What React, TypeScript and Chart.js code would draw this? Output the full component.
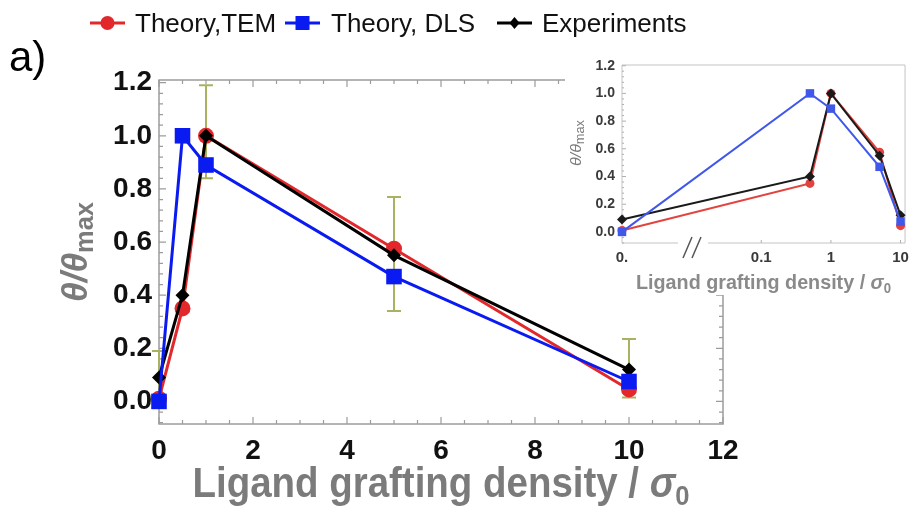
import React, { useEffect, useRef } from 'react';
import { Chart, registerables } from 'chart.js';

Chart.register(...registerables);

// ---------- data ----------
const densities = [0, 0.5, 1, 5, 10];
// inset uses a broken log axis: density 0 is placed at the left origin (0.001)
const insetDensities = [0.001, 0.5, 1, 5, 10];
const theoryTEM = [0.01, 0.35, 1.0, 0.575, 0.045];
const theoryDLS = [0.0, 1.0, 0.89, 0.47, 0.075];
const experiments = [0.09, 0.4, 1.0, 0.55, 0.12];
const expErrHigh: (number | null)[] = [0.19, null, 1.19, 0.77, 0.235];
const expErrLow: (number | null)[] = [-0.01, null, 0.84, 0.34, 0.015];
const mainXTicks = [0, 2, 4, 6, 8, 10, 12];
const yTicks = [0, 0.2, 0.4, 0.6, 0.8, 1.0, 1.2];
const insetXTicks = [0.001, 0.1, 1, 10];
const insetXTickLabels = ['0.', '0.1', '1', '10'];
const seriesNames = ['Theory,TEM', 'Theory, DLS', 'Experiments'];

// ---------- styles ----------
const FONT = "'Liberation Sans', Arial, Helvetica, sans-serif";
const RED = '#e3282b';
const BLUE = '#0a1bf2';
const BLACK = '#000000';
const ERR = '#aab160';
const TITLE_GRAY = '#7b7b7b';

const pts = (xs: number[], ys: number[]) => xs.map((x, i) => ({ x, y: ys[i] }));

type Run = { text: string; font: string; dy?: number };

function drawRich(ctx: CanvasRenderingContext2D, runs: Run[], cx: number, by: number, color: string, targetWidth?: number, rotate?: boolean) {
  ctx.save();
  ctx.fillStyle = color;
  ctx.textBaseline = 'alphabetic';
  ctx.textAlign = 'left';
  const widths = runs.map((r) => {
    ctx.font = r.font;
    return ctx.measureText(r.text).width;
  });
  const W = widths.reduce((a, b) => a + b, 0);
  const s = targetWidth ? targetWidth / W : 1;
  ctx.translate(cx, by);
  if (rotate) ctx.rotate(-Math.PI / 2);
  ctx.scale(s, 1);
  let x = -W / 2;
  runs.forEach((r, i) => {
    ctx.font = r.font;
    ctx.fillText(r.text, x, r.dy || 0);
    x += widths[i];
  });
  ctx.restore();
}

function drawMarker(ctx: CanvasRenderingContext2D, style: string, x: number, y: number, r: number, color: string) {
  ctx.save();
  ctx.fillStyle = color;
  ctx.beginPath();
  if (style === 'circle') {
    ctx.arc(x, y, r, 0, Math.PI * 2);
  } else if (style === 'rect') {
    ctx.rect(x - r, y - r, 2 * r, 2 * r);
  } else {
    ctx.moveTo(x, y - r);
    ctx.lineTo(x + r * 0.85, y);
    ctx.lineTo(x, y + r);
    ctx.lineTo(x - r * 0.85, y);
    ctx.closePath();
  }
  ctx.fill();
  ctx.restore();
}

function tickLoop(min: number, max: number, step: number, every: number, cb: (v: number, major: boolean) => void) {
  const k0 = Math.ceil(min / step - 1e-9);
  const k1 = Math.floor(max / step + 1e-9);
  for (let k = k0; k <= k1; k++) cb(k * step, k % every === 0);
}

// ---------- main chart plugin ----------
const mainDecor = {
  id: 'mainDecor',
  beforeDatasetsDraw(chart: any) {
    const { ctx, chartArea: a, scales } = chart;
    const x = scales.x;
    const y = scales.y;
    ctx.save();
    ctx.strokeStyle = '#9c9c9c';
    ctx.lineWidth = 1.5;
    ctx.strokeRect(a.left, a.top, a.right - a.left, a.bottom - a.top);
    ctx.lineWidth = 1.2;
    ctx.beginPath();
    tickLoop(x.min, x.max, 0.5, 4, (v, major) => {
      const px = x.getPixelForValue(v);
      const len = major ? 7 : 4;
      ctx.moveTo(px, a.bottom);
      ctx.lineTo(px, a.bottom - len);
      ctx.moveTo(px, a.top);
      ctx.lineTo(px, a.top + len);
    });
    tickLoop(y.min, y.max, 0.04, 5, (v, major) => {
      const py = y.getPixelForValue(v);
      const len = major ? 7 : 4;
      ctx.moveTo(a.left, py);
      ctx.lineTo(a.left + len, py);
      ctx.moveTo(a.right, py);
      ctx.lineTo(a.right - len, py);
    });
    ctx.stroke();
    // error bars on experiments
    ctx.strokeStyle = ERR;
    ctx.lineWidth = 2;
    ctx.beginPath();
    densities.forEach((d, i) => {
      const hi = expErrHigh[i];
      const lo = expErrLow[i];
      if (hi == null || lo == null) return;
      const px = x.getPixelForValue(d);
      const ph = y.getPixelForValue(hi);
      const pl = y.getPixelForValue(lo);
      ctx.moveTo(px, ph);
      ctx.lineTo(px, pl);
      ctx.moveTo(px - 7, ph);
      ctx.lineTo(px + 7, ph);
      ctx.moveTo(px - 7, pl);
      ctx.lineTo(px + 7, pl);
    });
    ctx.stroke();
    ctx.restore();
  },
  afterDraw(chart: any) {
    const { ctx, chartArea: a } = chart;
    ctx.save();
    ctx.fillStyle = '#000';
    ctx.font = `42px ${FONT}`;
    ctx.textBaseline = 'alphabetic';
    ctx.textAlign = 'left';
    ctx.fillText('a)', 9, 71);
    const items = [
      { name: seriesNames[0], color: RED, style: 'circle', r: 7, x0: 90, x1: 125, tx: 135 },
      { name: seriesNames[1], color: BLUE, style: 'rect', r: 7, x0: 285, x1: 320, tx: 331 },
      { name: seriesNames[2], color: BLACK, style: 'diamond', r: 6, x0: 497, x1: 532, tx: 542 },
    ];
    const ly = 23;
    items.forEach((it) => {
      ctx.strokeStyle = it.color;
      ctx.lineWidth = 3;
      ctx.beginPath();
      ctx.moveTo(it.x0, ly);
      ctx.lineTo(it.x1, ly);
      ctx.stroke();
      drawMarker(ctx, it.style, (it.x0 + it.x1) / 2, ly, it.r, it.color);
      ctx.fillStyle = '#111';
      ctx.font = `26px ${FONT}`;
      ctx.fillText(it.name, it.tx, 32);
    });
    ctx.restore();
    const cx = (a.left + a.right) / 2;
    drawRich(
      ctx,
      [
        { text: 'Ligand grafting density / ', font: `bold 42px ${FONT}` },
        { text: 'σ', font: `italic bold 42px ${FONT}` },
        { text: '0', font: `bold 28px ${FONT}`, dy: 8 },
      ],
      cx,
      497,
      TITLE_GRAY,
      497
    );
    drawRich(
      ctx,
      [
        { text: 'θ/θ', font: `italic bold 36px ${FONT}` },
        { text: 'max', font: `bold 26px ${FONT}`, dy: 6 },
      ],
      87,
      (a.top + a.bottom) / 2,
      TITLE_GRAY,
      100,
      true
    );
  },
};

// ---------- inset plugin ----------
const insetDecor = {
  id: 'insetDecor',
  beforeDraw(chart: any) {
    const { ctx, width, height } = chart;
    ctx.save();
    ctx.fillStyle = '#ffffff';
    ctx.fillRect(0, 0, width, height);
    ctx.restore();
  },
  beforeDatasetsDraw(chart: any) {
    const { ctx, chartArea: a, scales } = chart;
    const x = scales.x;
    const y = scales.y;
    ctx.save();
    ctx.strokeStyle = '#c4c4c4';
    ctx.lineWidth = 1;
    const gap0 = 113;
    const gap1 = 143;
    ctx.beginPath();
    ctx.moveTo(a.left, a.top);
    ctx.lineTo(a.right, a.top);
    ctx.lineTo(a.right, a.bottom);
    ctx.lineTo(gap1, a.bottom);
    ctx.moveTo(gap0, a.bottom);
    ctx.lineTo(a.left, a.bottom);
    ctx.lineTo(a.left, a.top);
    ctx.stroke();
    ctx.strokeStyle = '#b0b0b0';
    ctx.beginPath();
    tickLoop(y.min, y.max, 0.04, 5, (v, major) => {
      const py = y.getPixelForValue(v);
      const len = major ? 4 : 2;
      ctx.moveTo(a.left, py);
      ctx.lineTo(a.left + len, py);
    });
    insetXTicks.forEach((v, i) => {
      if (i === 0) return;
      const px = x.getPixelForValue(v);
      ctx.moveTo(px, a.bottom);
      ctx.lineTo(px, a.bottom - 3);
    });
    ctx.stroke();
    // axis break marks
    ctx.strokeStyle = '#555';
    ctx.lineWidth = 1.5;
    ctx.beginPath();
    ctx.moveTo(118, a.bottom + 15);
    ctx.lineTo(127, a.bottom - 6);
    ctx.moveTo(127, a.bottom + 15);
    ctx.lineTo(136, a.bottom - 6);
    ctx.stroke();
    ctx.restore();
  },
  afterDraw(chart: any) {
    const { ctx, chartArea: a } = chart;
    drawRich(
      ctx,
      [
        { text: 'Ligand grafting density / ', font: `bold 21px ${FONT}` },
        { text: 'σ', font: `italic bold 21px ${FONT}` },
        { text: '0', font: `bold 14px ${FONT}`, dy: 4 },
      ],
      (a.left + a.right) / 2,
      244,
      '#8a8a8a',
      255
    );
    drawRich(
      ctx,
      [
        { text: 'θ/θ', font: `italic 15px ${FONT}` },
        { text: 'max', font: `12px ${FONT}`, dy: 3 },
      ],
      16,
      98,
      '#7a7a7a',
      46,
      true
    );
  },
};

function MainChart() {
  const ref = useRef<HTMLCanvasElement>(null);
  useEffect(() => {
    const mk = (label: string, ys: number[], color: string, style: string, r: number, order: number) => ({
      label,
      data: pts(densities, ys),
      borderColor: color,
      backgroundColor: color,
      pointBackgroundColor: color,
      pointBorderColor: color,
      pointBorderWidth: 0,
      pointStyle: style,
      pointRadius: r,
      borderWidth: 3,
      order,
      clip: false as any,
      tension: 0,
    });
    const chart = new Chart(ref.current as HTMLCanvasElement, {
      type: 'line',
      data: {
        datasets: [
          mk(seriesNames[0], theoryTEM, RED, 'circle', 8, 3),
          mk(seriesNames[1], theoryDLS, BLUE, 'rect', 11, 1),
          mk(seriesNames[2], experiments, BLACK, 'rectRot', 7, 2),
        ] as any,
      },
      options: {
        animation: false,
        responsive: false,
        devicePixelRatio: 1,
        layout: { padding: { top: 80, right: 192, left: 0, bottom: 0 } },
        plugins: { legend: { display: false }, tooltip: { enabled: false } },
        scales: {
          x: {
            type: 'linear',
            min: 0,
            max: 12,
            afterBuildTicks: (s: any) => {
              s.ticks = mainXTicks.map((v) => ({ value: v }));
            },
            afterFit: (s: any) => {
              s.height = 105;
            },
            grid: { display: false, drawTicks: false },
            border: { display: false },
            ticks: {
              font: { family: FONT, size: 28, weight: 'bold' },
              color: '#111',
              padding: 10,
              maxRotation: 0,
              autoSkip: false,
              callback: (v: any) => String(v),
            },
          },
          y: {
            type: 'linear',
            min: -0.085,
            max: 1.21,
            afterBuildTicks: (s: any) => {
              s.ticks = yTicks.map((v) => ({ value: v }));
            },
            afterFit: (s: any) => {
              s.width = 159;
            },
            grid: { display: false, drawTicks: false },
            border: { display: false },
            ticks: {
              font: { family: FONT, size: 28, weight: 'bold' },
              color: '#111',
              padding: 7,
              autoSkip: false,
              callback: (v: any) => Number(v).toFixed(1),
            },
          },
        } as any,
      },
      plugins: [mainDecor],
    });
    return () => chart.destroy();
  }, []);
  return <canvas ref={ref} width={915} height={529} style={{ position: 'absolute', left: 0, top: 0 }} />;
}

function InsetChart() {
  const ref = useRef<HTMLCanvasElement>(null);
  useEffect(() => {
    const mk = (label: string, ys: number[], color: string, style: string, r: number, order: number) => ({
      label,
      data: pts(insetDensities, ys),
      borderColor: color,
      backgroundColor: color,
      pointBackgroundColor: color,
      pointBorderColor: color,
      pointBorderWidth: 0,
      pointStyle: style,
      pointRadius: r,
      borderWidth: 2,
      order,
      clip: false as any,
      tension: 0,
    });
    const chart = new Chart(ref.current as HTMLCanvasElement, {
      type: 'line',
      data: {
        datasets: [
          mk(seriesNames[0], theoryTEM, '#e2433f', 'circle', 4.5, 3),
          mk(seriesNames[1], theoryDLS, '#4058ea', 'rect', 6, 1),
          mk(seriesNames[2], experiments, '#1a1a1a', 'rectRot', 5, 2),
        ] as any,
      },
      options: {
        animation: false,
        responsive: false,
        devicePixelRatio: 1,
        layout: { padding: { top: 20, right: 7, left: 0, bottom: 0 } },
        plugins: { legend: { display: false }, tooltip: { enabled: false } },
        scales: {
          x: {
            type: 'logarithmic',
            min: 0.001,
            max: 11.6,
            afterBuildTicks: (s: any) => {
              s.ticks = insetXTicks.map((v) => ({ value: v }));
            },
            afterFit: (s: any) => {
              s.height = 52;
            },
            grid: { display: false, drawTicks: false },
            border: { display: false },
            ticks: {
              font: { family: FONT, size: 15, weight: 'bold' },
              color: '#3a3a3a',
              padding: 6,
              maxRotation: 0,
              autoSkip: false,
              callback: (v: any) => {
                const i = insetXTicks.indexOf(Number(v));
                return i >= 0 ? insetXTickLabels[i] : '';
              },
            },
          },
          y: {
            type: 'linear',
            min: -0.08,
            max: 1.205,
            afterBuildTicks: (s: any) => {
              s.ticks = yTicks.map((v) => ({ value: v }));
            },
            afterFit: (s: any) => {
              s.width = 57;
            },
            grid: { display: false, drawTicks: false },
            border: { display: false },
            ticks: {
              font: { family: FONT, size: 14, weight: 'bold' },
              color: '#3a3a3a',
              padding: 7,
              autoSkip: false,
              callback: (v: any) => Number(v).toFixed(1),
            },
          },
        } as any,
      },
      plugins: [insetDecor],
    });
    return () => chart.destroy();
  }, []);
  return <canvas ref={ref} width={350} height={250} style={{ position: 'absolute', left: 565, top: 45 }} />;
}

export default function App() {
  return (
    <div style={{ position: 'fixed', left: 0, top: 0, width: 915, height: 529, background: '#fff', overflow: 'hidden' }}>
      <MainChart />
      <InsetChart />
    </div>
  );
}
